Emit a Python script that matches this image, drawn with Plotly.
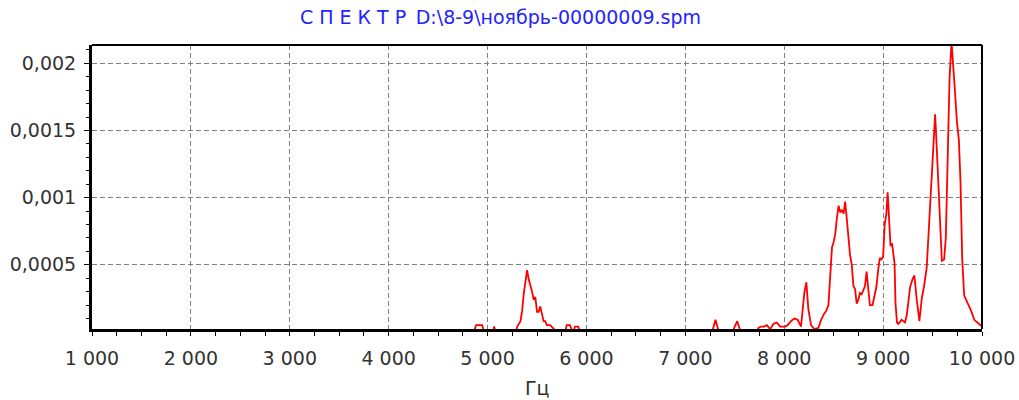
import plotly.graph_objects as go

# ---- data ----
freq_hz = [1000, 4860, 4885, 4945, 4965, 5055, 5067, 5080, 5285, 5300, 5333, 5350, 5367, 5383,
           5400, 5417, 5433, 5450, 5467, 5483, 5500, 5517, 5533, 5550, 5567, 5583, 5600, 5633,
           5667, 5700, 5785, 5800, 5833, 5860, 5870, 5883, 5917, 5933, 7271, 7305, 7339, 7475,
           7525, 7559, 7720, 7740, 7763, 7797, 7824, 7858, 7892, 7925, 7959, 8007, 8033, 8068,
           8102, 8136, 8170, 8203, 8224, 8244, 8271, 8305, 8346, 8373, 8400, 8427, 8447, 8466,
           8483, 8500, 8516, 8533, 8550, 8566, 8583, 8600, 8616, 8633, 8650, 8666, 8683, 8700,
           8716, 8733, 8750, 8766, 8783, 8800, 8816, 8833, 8850, 8866, 8893, 8916, 8933, 8950,
           8966, 8983, 9000, 9016, 9033, 9046, 9060, 9075, 9090, 9105, 9116, 9125, 9140, 9154,
           9187, 9221, 9238, 9255, 9272, 9296, 9316, 9340, 9367, 9391, 9414, 9441, 9458, 9482,
           9509, 9526, 9543, 9567, 9584, 9594, 9617, 9634, 9651, 9672, 9692, 9709, 9726, 9746,
           9766, 9783, 9800, 9820, 9854, 9888, 9922, 9956, 10000]
amplitude = [0, 0, 0.00005, 0.00005, 0, 0, 0.00004, 0, 0, 0.00004, 0.00008, 0.00016, 0.00029, 0.00036,
             0.00046, 0.00039, 0.00035, 0.0003, 0.00024, 0.00026, 0.00015, 0.00015, 0.00019, 0.00013, 0.00008, 0.00008, 0.00005, 0.00005,
             0.00002, 0, 0, 0.00005, 0.00005, 0, 0, 0.00004, 0.00004, 0, 0, 0.00009, 0, 0,
             0.00008, 0, 0, 0.00003, 0.00004, 0.00004, 0.00005, 0.00002, 0.00006, 0.00007, 0.00004, 0.00004, 0.00005, 0.00008,
             0.0001, 0.00009, 0.00004, 0.00029, 0.00037, 0.00017, 0.00005, 0.00002, 0.00003, 0.00009, 0.00013, 0.00016, 0.0002, 0.00041,
             0.00063, 0.00067, 0.00073, 0.00085, 0.00094, 0.00089, 0.00091, 0.00088, 0.00097, 0.00084, 0.00067, 0.00057, 0.0005, 0.00034,
             0.00032, 0.00021, 0.00024, 0.00029, 0.00028, 0.00032, 0.00034, 0.00045, 0.00034, 0.0002, 0.0002, 0.00028, 0.00034, 0.00046,
             0.00055, 0.00054, 0.00056, 0.0008, 0.00088, 0.00104, 0.00079, 0.00064, 0.00066, 0.00054, 0.00051, 0.00022, 0.00007, 0.00006,
             0.00009, 0.00007, 0.00012, 0.00022, 0.00033, 0.00039, 0.00042, 0.00024, 0.00008, 0.00025, 0.00034, 0.00048, 0.00071, 0.00103,
             0.00143, 0.00162, 0.00136, 0.00099, 0.0007, 0.00053, 0.00054, 0.0007, 0.00123, 0.00189, 0.00216, 0.002, 0.0018, 0.00157,
             0.00143, 0.00111, 0.00054, 0.00027, 0.00022, 0.00016, 0.00009, 0.00007, 0.00004]

x_tick_vals = [1000, 2000, 3000, 4000, 5000, 6000, 7000, 8000, 9000, 10000]
x_tick_text = ["1 000", "2 000", "3 000", "4 000", "5 000", "6 000", "7 000", "8 000", "9 000", "10 000"]
y_tick_vals = [0.0005, 0.001, 0.0015, 0.002]
y_tick_text = ["0,0005", "0,001", "0,0015", "0,002"]

title_text = "С П Е К Т Р\u2002D:\\8-9\\ноябрь-00000009.spm"
x_label = "Гц"

FONT = "DejaVu Sans"
GRID = "#808080"

fig = go.Figure()
fig.add_trace(go.Scatter(x=freq_hz, y=amplitude, mode="lines",
                         line=dict(color="#ff0000", width=1.8), showlegend=False,
                         hoverinfo="skip"))

fig.update_layout(
    width=1019, height=400,
    margin=dict(l=92, r=37, t=45, b=71, autoexpand=False),
    paper_bgcolor="white", plot_bgcolor="white",
    font=dict(family=FONT, size=19, color="#333333"),
    title=dict(text=title_text, x=500.5 / 1019, xref="container", xanchor="center",
               y=1 - 17 / 400, yref="container", yanchor="middle",
               font=dict(family=FONT, size=19, color="#2323ff")),
    showlegend=False,
)

fig.update_xaxes(
    range=[1000, 10000], automargin=False,
    tickmode="array", tickvals=x_tick_vals, ticktext=x_tick_text,
    ticks="outside", ticklen=4, tickwidth=1, tickcolor="#000000",
    ticklabelstandoff=6,
    showline=True, linecolor="#000000", linewidth=3,
    showgrid=True, gridcolor=GRID, gridwidth=1, griddash="5px,3px",
    zeroline=False,
    minor=dict(tickmode="linear", tick0=1000, dtick=250, ticks="outside", ticklen=4,
               tickcolor="#000000", showgrid=False),
    tickfont=dict(family=FONT, size=19, color="#333333"),
)
fig.update_yaxes(
    range=[0.0000216, 0.002137], automargin=False,
    tickmode="array", tickvals=y_tick_vals, ticktext=y_tick_text,
    ticks="outside", ticklen=5, tickwidth=1, tickcolor="#000000",
    ticklabelstandoff=4,
    showline=True, linecolor="#000000", linewidth=3,
    showgrid=True, gridcolor=GRID, gridwidth=1, griddash="5px,3px",
    zeroline=False,
    minor=dict(tickmode="linear", tick0=0, dtick=0.0001, ticks="outside", ticklen=3,
               tickcolor="#000000", showgrid=False),
    tickfont=dict(family=FONT, size=19, color="#333333"),
)

# top and right frame lines
fig.add_shape(type="line", xref="paper", yref="paper", x0=0, x1=1, y0=1, y1=1,
              line=dict(color="#000000", width=2))
fig.add_shape(type="line", xref="paper", yref="paper", x0=1, x1=1, y0=0, y1=1,
              line=dict(color="#000000", width=2))

fig.add_annotation(text=x_label, xref="paper", yref="paper", x=0.5, y=(329 - 388) / 284,
                   xanchor="center", yanchor="middle", showarrow=False,
                   font=dict(family=FONT, size=19, color="#333333"))

fig.write_html("out.html",
               config={"displayModeBar": False},
               post_script="document.body.style.margin='0';document.body.style.padding='0';")
